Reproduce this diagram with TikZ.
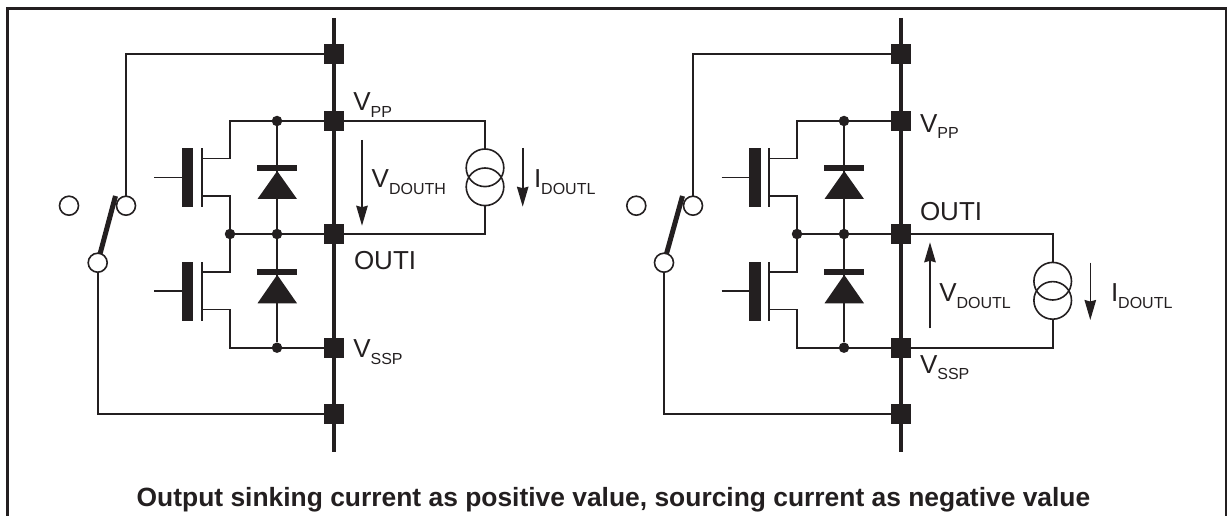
\documentclass[tikz,border=0pt]{standalone}
\usepackage{fontspec}
\setmainfont{Liberation Sans}
\usepackage{tikz}
\usetikzlibrary{arrows.meta,positioning}

\definecolor{ink}{HTML}{231F20}
\newcommand{\lowsub}[1]{\raisebox{-6.5pt}{\fontsize{16}{16}\selectfont #1}}

\begin{document}
\begin{tikzpicture}[
        x=1pt, y=-1pt,
        every path/.style={draw=ink, line width=1.6pt},
        every node/.style={inner sep=0pt, outer sep=0pt, text=ink},
        busline/.style={line width=4.2pt},
        frameline/.style={line width=2.6pt},
        pad/.style={rectangle, draw=none, fill=ink, minimum size=20pt},
        junction/.style={circle, draw=none, fill=ink, minimum size=10.5pt},
        terminal/.style={circle, draw=ink, fill=white, minimum size=19pt},
        blade/.style={line width=5pt},
        gateplate/.style={rectangle, draw=none, fill=ink, minimum width=11.6pt, minimum height=59pt},
        channel/.style={rectangle, draw=none, fill=ink, minimum width=2pt, minimum height=59pt},
        diodebar/.style={rectangle, draw=none, fill=ink, minimum width=39.5pt, minimum height=6.4pt},
        source/.style={circle, draw=ink, minimum size=37.6pt},
        sense/.style={-{Stealth[length=20pt, width=11.5pt, inset=1.5pt]}},
        lbl/.style={draw=none, anchor=base west, font=\fontsize{26}{26}\selectfont},
        caption/.style={draw=none, anchor=base, font=\fontsize{26.4}{26}\selectfont\bfseries}
    ]
    \path[use as bounding box, draw=none] (0,0) rectangle (1227,516);

    % Frame
    \coordinate (frameBL) at (7.5,520);
    \coordinate (frameBR) at (1226,520);
    \coordinate (frameTR) at (1226,8.7);
    \draw[frameline] (frameBL) |- (frameTR) -- (frameBR);

    % Left circuit: bus and pads
    \coordinate (busTopL) at (334,18);
    \coordinate (busBotL) at (334,452);
    \draw[busline] (busTopL) -- (busBotL);
    \node[pad] (padTopL) at (334,54) {};
    \node[pad] (padVppL) at (334,121) {};
    \node[pad] (padOutL) at (334,234) {};
    \node[pad] (padVspL) at (334,347.7) {};
    \node[pad] (padBotL) at (334,414) {};

    % Left circuit: switch
    \node[terminal] (swOpenL) at (69,205.7) {};
    \node[terminal] (swHighL) at (126,205.7) {};
    \node[terminal] (swComL) at (97.7,262.7) {};
    \coordinate (bladeTipL) at (115.5,196);
    \draw[blade] (swComL) -- (bladeTipL);
    \draw (padTopL) -| (swHighL);
    \draw (padBotL) -| (swComL);

    % Left circuit: upper transistor
    \node[gateplate] (gateUpL) at (187.5,177.5) {};
    \node[channel] (chanUpL) at (202,177.5) {};
    \coordinate (leadUpL) at (154,177.5);
    \coordinate (drainUpL) at (202,158.5);
    \coordinate (srcUpL) at (202,196);
    \node[junction] (dotVppL) at (277,121) {};
    \node[junction] (dotOutL) at (277,234) {};
    \node[junction] (dotMidL) at (230,234) {};
    \draw (leadUpL) -- (gateUpL);
    \draw (padVppL) -- (dotVppL);
    \draw (dotVppL) -| (230,158.5) -- (drainUpL);
    \draw (srcUpL) -| (dotMidL);
    \draw (padOutL) -- (dotMidL);

    % Left circuit: lower transistor
    \node[gateplate] (gateLoL) at (187.5,291) {};
    \node[channel] (chanLoL) at (202,291) {};
    \coordinate (leadLoL) at (154,291);
    \coordinate (drainLoL) at (202,272);
    \coordinate (srcLoL) at (202,309.3);
    \node[junction] (dotVspL) at (277,347.7) {};
    \draw (leadLoL) -- (gateLoL);
    \draw (drainLoL) -| (dotMidL);
    \draw (srcLoL) -| (230,347.7) -- (dotVspL);
    \draw (padVspL) -- (dotVspL);

    % Left circuit: diodes
    \draw (dotVppL) -- (dotOutL);
    \draw (dotOutL) -- (dotVspL);
    \node[diodebar] (barUpL) at (277.2,168) {};
    \node[diodebar] (barLoL) at (277.2,271.7) {};
    \fill[ink, draw=none] (277.2,171) -- (257.5,199) -- (297,199) -- cycle;
    \fill[ink, draw=none] (277.2,274.8) -- (257.5,303.3) -- (297,303.3) -- cycle;

    % Left circuit: load
    \node[source] (srcTopL) at (485,167.8) {};
    \node[source] (srcBotL) at (485,186.8) {};
    \draw (padVppL) -| (srcTopL);
    \draw (padOutL) -| (srcBotL);
    \coordinate (vHighA) at (362,140);
    \coordinate (vHighB) at (362,225.7);
    \coordinate (iLoadAL) at (522.7,148);
    \coordinate (iLoadBL) at (522.7,206.7);
    \draw[sense] (vHighA) -- (vHighB);
    \draw[sense] (iLoadAL) -- (iLoadBL);

    % Left circuit: labels
    \node[lbl] (lblVppL) at (353.3,110.7) {V\lowsub{PP}};
    \node[lbl] (lblOutL) at (354,269.3) {OUTI};
    \node[lbl] (lblVspL) at (353.3,357.7) {V\lowsub{SSP}};
    \node[lbl] (lblVhigh) at (371.7,188) {V\lowsub{DOUTH}};
    \node[lbl] (lblIloadL) at (534,188) {I\lowsub{DOUTL}};

    % Right circuit: bus and pads
    \coordinate (busTopR) at (901,18);
    \coordinate (busBotR) at (901,452);
    \draw[busline] (busTopR) -- (busBotR);
    \node[pad] (padTopR) at (901,54) {};
    \node[pad] (padVppR) at (901,121) {};
    \node[pad] (padOutR) at (901,234) {};
    \node[pad] (padVspR) at (901,347.7) {};
    \node[pad] (padBotR) at (901,414) {};

    % Right circuit: switch
    \node[terminal] (swOpenR) at (636.3,205.7) {};
    \node[terminal] (swHighR) at (693,205.7) {};
    \node[terminal] (swComR) at (664,262.7) {};
    \coordinate (bladeTipR) at (682.5,196);
    \draw[blade] (swComR) -- (bladeTipR);
    \draw (padTopR) -| (swHighR);
    \draw (padBotR) -| (swComR);

    % Right circuit: upper transistor
    \node[gateplate] (gateUpR) at (754.7,177.5) {};
    \node[channel] (chanUpR) at (769,177.5) {};
    \coordinate (leadUpR) at (721.5,177.5);
    \coordinate (drainUpR) at (769,158.5);
    \coordinate (srcUpR) at (769,196);
    \node[junction] (dotVppR) at (844,121) {};
    \node[junction] (dotOutR) at (844,234) {};
    \node[junction] (dotMidR) at (797,234) {};
    \draw (leadUpR) -- (gateUpR);
    \draw (padVppR) -- (dotVppR);
    \draw (dotVppR) -| (797,158.5) -- (drainUpR);
    \draw (srcUpR) -| (dotMidR);
    \draw (padOutR) -- (dotMidR);

    % Right circuit: lower transistor
    \node[gateplate] (gateLoR) at (754.7,291) {};
    \node[channel] (chanLoR) at (769,291) {};
    \coordinate (leadLoR) at (721.5,291);
    \coordinate (drainLoR) at (769,272);
    \coordinate (srcLoR) at (769,309.3);
    \node[junction] (dotVspR) at (844,347.7) {};
    \draw (leadLoR) -- (gateLoR);
    \draw (drainLoR) -| (dotMidR);
    \draw (srcLoR) -| (797,347.7) -- (dotVspR);
    \draw (padVspR) -- (dotVspR);

    % Right circuit: diodes
    \draw (dotVppR) -- (dotOutR);
    \draw (dotOutR) -- (dotVspR);
    \node[diodebar] (barUpR) at (844.2,168) {};
    \node[diodebar] (barLoR) at (844.2,271.7) {};
    \fill[ink, draw=none] (844.2,171) -- (824.5,199) -- (864,199) -- cycle;
    \fill[ink, draw=none] (844.2,274.8) -- (824.5,303.3) -- (864,303.3) -- cycle;

    % Right circuit: load
    \node[source] (srcTopR) at (1052.7,281.2) {};
    \node[source] (srcBotR) at (1052.7,300.4) {};
    \draw (padOutR) -| (srcTopR);
    \draw (padVspR) -| (srcBotR);
    \coordinate (vLowA) at (930,328.3);
    \coordinate (vLowB) at (930,242.3);
    \coordinate (iLoadAR) at (1090.3,262.7);
    \coordinate (iLoadBR) at (1090.3,320);
    \draw[sense] (vLowA) -- (vLowB);
    \draw[sense] (iLoadAR) -- (iLoadBR);

    % Right circuit: labels
    \node[lbl] (lblVppR) at (920,132.5) {V\lowsub{PP}};
    \node[lbl] (lblOutR) at (920,220) {OUTI};
    \node[lbl] (lblVspR) at (920,373.3) {V\lowsub{SSP}};
    \node[lbl] (lblVlow) at (939.3,301.7) {V\lowsub{DOUTL}};
    \node[lbl] (lblIloadR) at (1111,301.7) {I\lowsub{DOUTL}};

    % Caption
    \node[caption] (caption) at (613.5,506.7) {Output sinking current as positive value, sourcing current as negative value};

\end{tikzpicture}
\end{document}
